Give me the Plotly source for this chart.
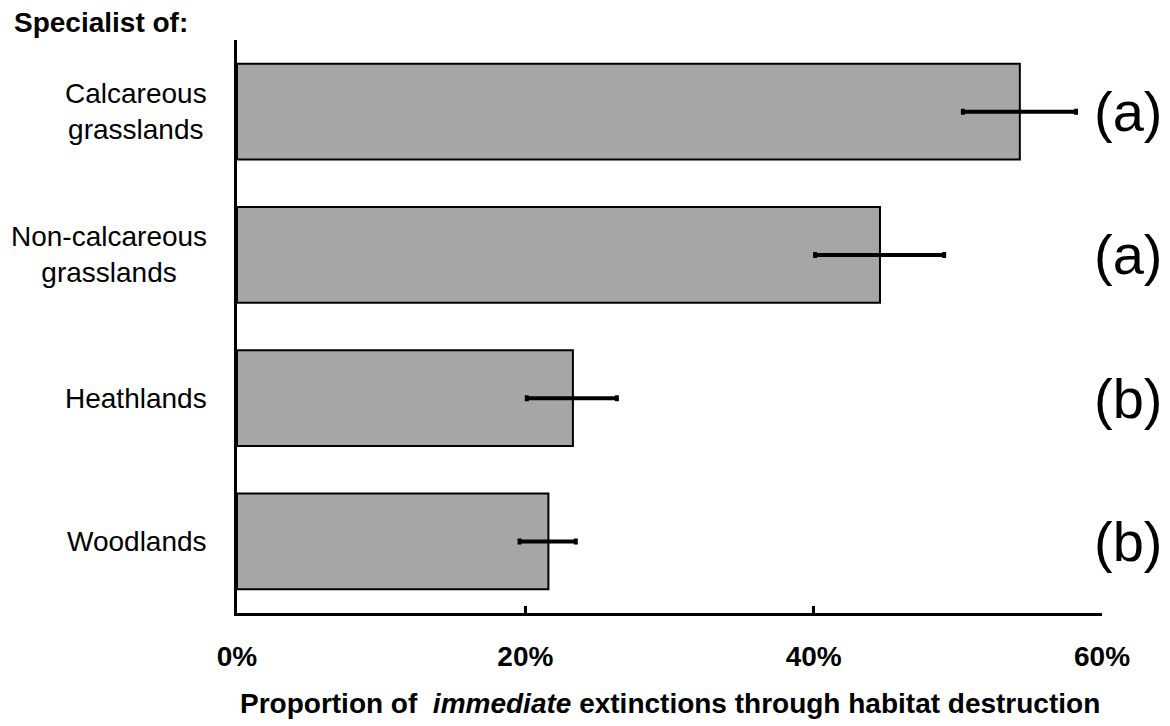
import plotly.graph_objects as go

categories = ["Calcareous<br>grasslands", "Non-calcareous<br>grasslands", "Heathlands", "Woodlands"]
values = [54.3, 44.6, 23.3, 21.6]
err_low = [50.35, 40.1, 20.1, 19.6]
err_high = [58.2, 49.05, 26.35, 23.5]
letters = ["(a)", "(a)", "(b)", "(b)"]
tick_vals = [0, 20, 40, 60]
tick_text = ["0%", "20%", "40%", "60%"]

FONT = "Arial, Liberation Sans, Helvetica, sans-serif"

plus = [h - v for h, v in zip(err_high, values)]
minus = [v - l for v, l in zip(values, err_low)]

fig = go.Figure()
fig.add_trace(go.Bar(
    y=categories, x=values, orientation="h",
    marker=dict(color="#A6A6A6", line=dict(color="black", width=2)),
    error_x=dict(type="data", symmetric=False, array=plus, arrayminus=minus,
                 color="black", thickness=4, width=3),
    showlegend=False, hoverinfo="skip",
))

annotations = []
for cat in categories:
    annotations.append(dict(
        x=0, xref="paper", y=cat, yref="y", xanchor="right", yanchor="middle",
        xshift=-28, text=cat, showarrow=False, align="center",
        font=dict(family=FONT, size=28, color="black"),
    ))
for cat, let in zip(categories, letters):
    annotations.append(dict(
        x=1.0, xref="paper", y=cat, yref="y", xanchor="left", yanchor="middle",
        xshift=-10, text=let, showarrow=False,
        font=dict(family=FONT, size=56, color="black"),
    ))
annotations.append(dict(
    x=-0.26, xref="paper", y=1.03, yref="paper", xanchor="left", yanchor="middle",
    text="<b>Specialist of:</b>", showarrow=False,
    font=dict(family=FONT, size=28, color="black"),
))
annotations.append(dict(
    x=0.5, xref="paper", y=-0.158, yref="paper", xanchor="center", yanchor="middle",
    text="<b>Proportion of&nbsp; <i>immediate</i> extinctions through habitat destruction</b>",
    showarrow=False, font=dict(family=FONT, size=28, color="black"),
))

# page body has an 8px default margin: shrink the figure so the plot lands where the reference has it
fig.update_layout(
    width=1162, height=718,
    margin=dict(l=229, r=68, t=32, b=113),
    paper_bgcolor="white", plot_bgcolor="white",
    bargap=0.33,
    annotations=annotations,
    xaxis=dict(range=[0, 60], tickvals=tick_vals, ticktext=tick_text,
               ticks="inside", ticklen=7, tickwidth=2.5, tickcolor="black",
               showline=True, linewidth=2.5, linecolor="black",
               showgrid=False, zeroline=False, ticklabelstandoff=17,
               tickfont=dict(family=FONT, size=28, color="black", weight="bold")),
    yaxis=dict(categoryorder="array", categoryarray=categories,
               autorange="reversed", showticklabels=False, ticks="",
               showline=True, linewidth=2.5, linecolor="black",
               showgrid=False, zeroline=False),
)

fig.write_html("out.html")
